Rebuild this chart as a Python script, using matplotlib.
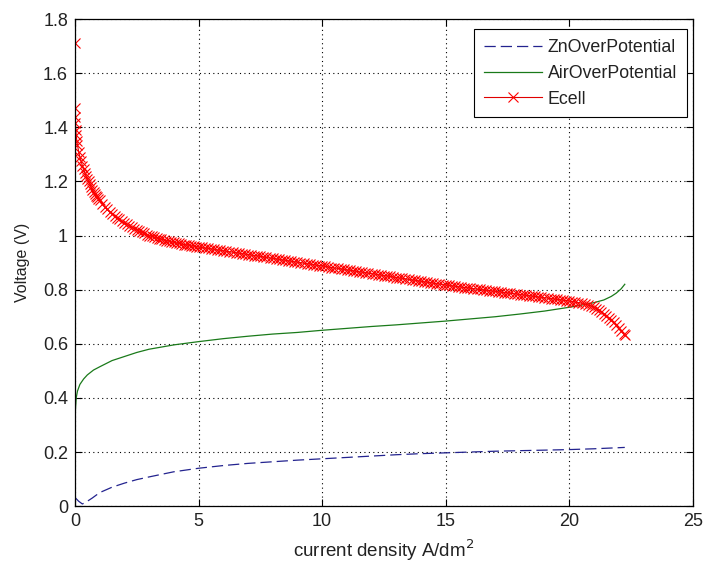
import matplotlib
matplotlib.use("Agg")
import numpy as np
import matplotlib.pyplot as plt

plt.rcParams['font.family'] = ['Liberation Sans', 'DejaVu Sans']

# Ecell: steep start (0 .. 4.9 A/dm^2)
ecell_x_start = [0.0, 0.005, 0.01, 0.02, 0.035, 0.05, 0.075, 0.1, 0.15, 0.2, 0.25, 0.3,
                 0.35, 0.4, 0.45, 0.5, 0.55, 0.6, 0.65, 0.7, 0.75, 0.8, 0.85, 0.9, 0.95,
                 1.0, 1.1, 1.2, 1.3, 1.4, 1.5, 1.6, 1.7, 1.8, 1.9,
                 2.0, 2.1, 2.2, 2.3, 2.4, 2.5, 2.6, 2.7, 2.8, 2.9,
                 3.0, 3.1, 3.2, 3.3, 3.4, 3.5, 3.6, 3.7, 3.8, 3.9,
                 4.0, 4.1, 4.2, 4.3, 4.4, 4.5, 4.6, 4.7, 4.8, 4.9]
ecell_y_start = [1.71, 1.47, 1.44, 1.415, 1.39, 1.37, 1.35, 1.335, 1.31, 1.29, 1.275, 1.258,
                 1.245, 1.232, 1.22, 1.21, 1.20, 1.19, 1.18, 1.17, 1.162, 1.155, 1.148, 1.141, 1.135,
                 1.13, 1.118, 1.107, 1.097, 1.088, 1.08, 1.073, 1.066, 1.06, 1.053,
                 1.047, 1.042, 1.036, 1.031, 1.026, 1.021, 1.017, 1.012, 1.008, 1.004,
                 1.000, 0.997, 0.994, 0.991, 0.989, 0.986, 0.984, 0.981, 0.979, 0.977,
                 0.975, 0.973, 0.971, 0.969, 0.967, 0.966, 0.964, 0.962, 0.961, 0.959]

# Ecell: plateau, sampled every 0.125 A/dm^2 from 5 to 20
ecell_x_mid = np.arange(5.0, 20.0625, 0.125)
ecell_y_mid = [0.958, 0.956, 0.954, 0.953, 0.951, 0.949, 0.947, 0.946,
               0.944, 0.942, 0.940, 0.939, 0.937, 0.935, 0.933, 0.932,
               0.930, 0.928, 0.926, 0.925, 0.923, 0.921, 0.919, 0.917,
               0.916, 0.914, 0.912, 0.910, 0.909, 0.907, 0.905, 0.903,
               0.902, 0.900, 0.898, 0.896, 0.895, 0.893, 0.891, 0.889,
               0.888, 0.886, 0.884, 0.882, 0.880, 0.879, 0.877, 0.875,
               0.873, 0.872, 0.870, 0.868, 0.866, 0.865, 0.863, 0.861,
               0.859, 0.858, 0.856, 0.854, 0.852, 0.851, 0.849, 0.847,
               0.845, 0.843, 0.842, 0.840, 0.838, 0.836, 0.835, 0.833,
               0.831, 0.829, 0.828, 0.826, 0.824, 0.822, 0.821, 0.819,
               0.817,
               0.816, 0.814, 0.813, 0.811, 0.810, 0.808, 0.807, 0.805,
               0.804, 0.802, 0.801, 0.800, 0.798, 0.797, 0.795, 0.794,
               0.792, 0.791, 0.789, 0.788, 0.787, 0.785, 0.784, 0.782,
               0.781, 0.779, 0.778, 0.776, 0.775, 0.773, 0.772, 0.770,
               0.769, 0.767, 0.766, 0.764, 0.763, 0.761, 0.760, 0.758]

# Ecell: collapse near limiting current
ecell_x_end = [20.125, 20.25, 20.375, 20.5, 20.625, 20.75, 20.875, 21.0,
               21.1, 21.2, 21.3, 21.4, 21.5, 21.6, 21.7, 21.8, 21.9, 22.0, 22.1, 22.2, 22.25]
ecell_y_end = [0.756, 0.754, 0.752, 0.750, 0.747, 0.744, 0.740, 0.735,
               0.730, 0.724, 0.718, 0.711, 0.703, 0.696, 0.688, 0.679, 0.669, 0.659,
               0.648, 0.638, 0.632]

ecell_x = np.concatenate([ecell_x_start, ecell_x_mid, ecell_x_end])
ecell_y = np.concatenate([ecell_y_start, ecell_y_mid, ecell_y_end])

air_x = [0.0, 0.02, 0.05, 0.1, 0.2, 0.35, 0.5, 0.75, 1.0, 1.5, 2.0, 2.5, 3.0, 4.0, 5.0,
         6.0, 7.0, 8.0, 9.0, 10.0, 11.0, 12.0, 13.0, 14.0, 15.0, 16.0, 17.0, 18.0, 19.0,
         20.0, 20.5, 21.0, 21.4, 21.7, 21.9, 22.1, 22.25]
air_y = [0.275, 0.36, 0.40, 0.425, 0.45, 0.47, 0.485, 0.503, 0.515, 0.538, 0.553, 0.568,
         0.580, 0.596, 0.608, 0.619, 0.628, 0.636, 0.642, 0.650, 0.657, 0.664, 0.670, 0.677,
         0.684, 0.692, 0.700, 0.710, 0.721, 0.735, 0.743, 0.752, 0.762, 0.775, 0.787, 0.803, 0.82]

zn_x = [0.0, 0.15, 0.3, 0.45, 0.7, 1.0, 1.5, 2.0, 2.5, 3.0, 4.0, 5.0, 6.0, 7.0, 8.0, 9.0,
        10.0, 11.0, 12.0, 13.0, 14.0, 15.0, 16.0, 17.0, 18.0, 19.0, 20.0, 21.0, 22.25]
zn_y = [0.032, 0.018, 0.008, 0.015, 0.03, 0.05, 0.07, 0.085, 0.098, 0.108, 0.127, 0.140,
        0.150, 0.158, 0.164, 0.170, 0.175, 0.180, 0.185, 0.190, 0.194, 0.197, 0.200, 0.203,
        0.205, 0.207, 0.209, 0.212, 0.217]

fig = plt.figure(figsize=(7.04, 5.63), dpi=100)
ax = fig.add_axes([0.1065, 0.101, 0.8775, 0.865])

ax.plot(zn_x, zn_y, color='#23238f', lw=0.9, dashes=(9, 4), label='ZnOverPotential')
ax.plot(air_x, air_y, color='#1a7a1a', lw=0.9, label='AirOverPotential')
ax.plot(ecell_x, ecell_y, color='#e00000', lw=0.8, marker='x', markersize=6.5,
        markeredgewidth=0.8, markeredgecolor='red', label='Ecell')

ax.set_xlim(0, 25)
ax.set_ylim(0, 1.8)
ax.set_xticks([0, 5, 10, 15, 20, 25])
ax.set_yticks([0, 0.2, 0.4, 0.6, 0.8, 1.0, 1.2, 1.4, 1.6, 1.8])
ax.set_yticklabels(['0', '0.2', '0.4', '0.6', '0.8', '1', '1.2', '1.4', '1.6', '1.8'])
ax.grid(True, color='black', linestyle=(0, (1, 3)), linewidth=0.8)
ax.tick_params(direction='in', top=True, right=True, labelsize=13, length=5, pad=5,
               labelcolor='#222222')
for s in ax.spines.values():
    s.set_linewidth(0.9)

ax.set_xlabel('current density A/dm$^2$', fontsize=13.5, color='#222222', labelpad=5)
ax.set_ylabel('Voltage (V)', fontsize=11.5, color='#222222', labelpad=9)

leg = ax.legend(loc='upper right', bbox_to_anchor=(0.9903, 0.9795), borderaxespad=0,
                fontsize=12.8, handlelength=3.3, handletextpad=0.3, fancybox=False,
                framealpha=1, edgecolor='black', labelspacing=0.5, borderpad=0.55)
leg.get_frame().set_linewidth(0.8)
for t in leg.get_texts():
    t.set_color('#222222')

fig.savefig('out.png', dpi=100)
